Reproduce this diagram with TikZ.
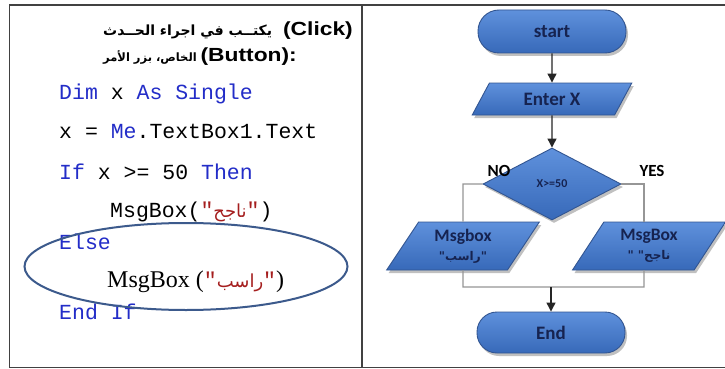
\documentclass[tikz,border=0pt]{standalone}
\usepackage{fontspec}
\TeXXeTstate=1
\setmainfont{Liberation Sans}
\newfontfamily\codefont{Liberation Mono}
\newfontfamily\serifcode{Liberation Serif}
\newfontfamily\arabicfont[Script=Arabic]{DejaVu Sans}
\newfontfamily\hdfont[FakeStretch=1.2]{Liberation Sans}
\newfontfamily\flowfont{Carlito}
\usetikzlibrary{shapes.geometric,shadows,arrows.meta}
\definecolor{kw}{RGB}{35,45,200}
\definecolor{arred}{RGB}{165,30,30}
\definecolor{framec}{RGB}{65,65,65}
\definecolor{fctop}{RGB}{95,145,220}
\definecolor{fcbot}{RGB}{55,105,185}
\definecolor{fcborder}{RGB}{50,85,145}
\definecolor{fctext}{RGB}{22,35,80}
\definecolor{ellc}{RGB}{60,90,140}
\definecolor{branchc}{RGB}{150,150,150}
\begin{document}
\begin{tikzpicture}[x=1pt,y=-1pt,
  framel/.style={draw=framec,line width=1.5pt},
  codeline/.style={anchor=base west,inner sep=0pt,font=\codefont\fontsize{21.5}{24}\selectfont},
  hdar/.style={anchor=base west,inner sep=0pt,font=\arabicfont\bfseries\fontsize{14}{18}\selectfont},
  hdlat/.style={anchor=base east,inner sep=0pt,font=\hdfont\bfseries\fontsize{19}{22}\selectfont},
  flowshape/.style={draw=fcborder,line width=0.9pt,top color=fctop,bottom color=fcbot,
    drop shadow={shadow xshift=2pt,shadow yshift=-3pt,opacity=0.35,fill=black!70},
    text=fctext,font=\flowfont\bfseries\fontsize{19}{21}\selectfont,inner sep=0pt},
  paral/.style={flowshape,trapezium,trapezium left angle=59,trapezium right angle=121,
    trapezium stretches=true,minimum width=154pt,minimum height=48pt,align=center,
    font=\flowfont\bfseries\fontsize{17.5}{19}\selectfont},
  flowarrow/.style={draw=black!85,line width=1.2pt,-{Triangle[length=9pt,width=9pt]}},
  branch/.style={draw=branchc,line width=1.3pt},
  ylabel/.style={font=\flowfont\bfseries\fontsize{17}{19}\selectfont,inner sep=0pt}
]
\useasboundingbox (0,0) rectangle (725,369);
\fill[white] (0,0) rectangle (725,369);
% table frame
\draw[framel] (725,5) -- (9.5,5) -- (9.5,367.5) -- (725,367.5);
\draw[framel] (362,5) -- (362,367.5);

% heading
\node[hdar] (h1a) at (103,36) {\beginR يكتــب في اجراء الحــدث\endR};
\node[hdlat] (h1b) at (353,36) {(Click)};
\node[hdar,font=\arabicfont\bfseries\fontsize{11.5}{15}\selectfont] (h2a) at (103,62) {\beginR الخاص، بزر الأمر\endR};
\node[hdlat] (h2b) at (297,62) {(Button):};

% code
\node[codeline] (c1) at (59,99) {{\color{kw}Dim} x {\color{kw}As Single}};
\node[codeline] (c2) at (59,138) {x = {\color{kw}Me}.TextBox1.Text};
\node[codeline] (c3) at (59,179) {{\color{kw}If} x >= 50 {\color{kw}Then}};
\node[codeline] (c4) at (110,217) {MsgBox({\color{arred}"{\arabicfont\fontsize{18}{20}\selectfont ناجح}"})};
\node[codeline] (c5) at (59,249) {{\color{kw}Else}};
\node[codeline] (c6) at (107,287) {{\serifcode\fontsize{24}{26}\selectfont MsgBox (}{\color{arred}"{\arabicfont\fontsize{18}{20}\selectfont راسب}"}{\serifcode\fontsize{24}{26}\selectfont )}};
\node[codeline] (c7) at (59,319) {{\color{kw}End If}};
\node[draw=ellc,line width=2pt,ellipse,minimum width=323pt,minimum height=87pt,inner sep=0pt] (ell) at (186,266.5) {};

% flowchart
\node[flowshape,rectangle,rounded corners=21pt,minimum width=148pt,minimum height=43pt] (start) at (552,31.5) {start};
\node[flowshape,trapezium,trapezium left angle=58,trapezium right angle=122,trapezium stretches=true,minimum width=160pt,minimum height=32pt] (enter) at (552,99) {Enter X};
\node[flowshape,diamond,minimum width=138pt,minimum height=72pt,font=\flowfont\bfseries\fontsize{12}{14}\selectfont] (dec) at (552,184) {X>=50};
\node[paral] (nob) at (463,246) {Msgbox\\{\arabicfont\fontsize{12}{15}\selectfont "راسب"}};
\node[paral] (yesb) at (649,246) {MsgBox\\{\arabicfont\fontsize{12}{15}\selectfont " ناجح"}};
\node[flowshape,rectangle,rounded corners=20pt,minimum width=148pt,minimum height=41pt] (end) at (551,332.5) {End};

\node[ylabel] (no) at (499,171) {NO};
\node[ylabel] (yes) at (652,171) {YES};

\coordinate (lt) at (463,184);
\coordinate (rt) at (644,184);
\coordinate (lb) at (463,287);
\coordinate (rb) at (644,287);
\coordinate (mg) at (551,287);

\draw[flowarrow] (start) -- (enter);
\draw[flowarrow] (enter) -- (dec);
\draw[branch] (dec.west) -- (lt) -- (nob.north);
\draw[branch] (dec.east) -- (rt) -- (rt |- yesb.north);
\draw[branch] (nob.south) -- (lb) -- (rb) -- (rb |- yesb.south);
\draw[flowarrow] (mg) -- (end);
\end{tikzpicture}
\end{document}
